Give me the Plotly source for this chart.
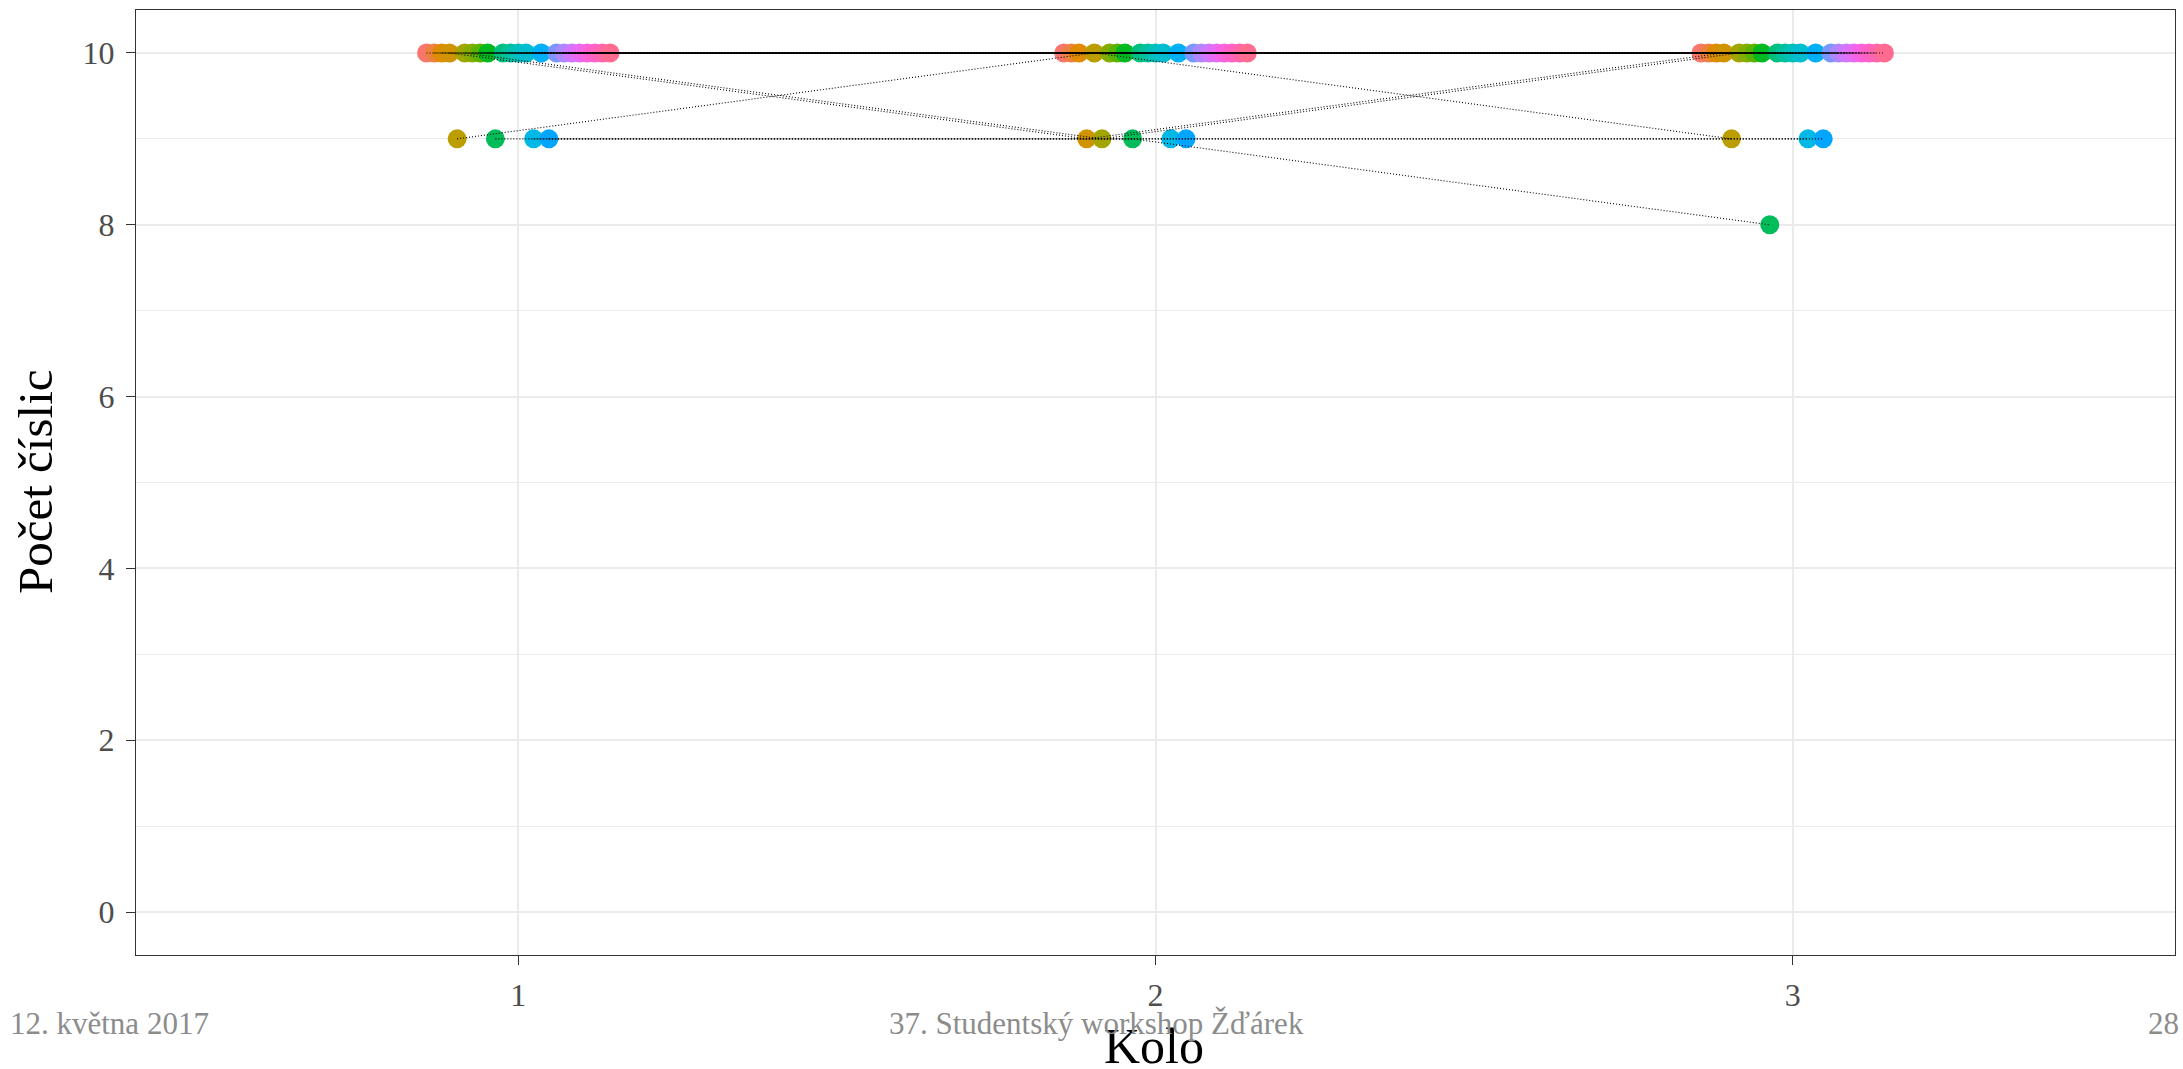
import math
import plotly.graph_objects as go

# ---- data ----
kola = [1, 2, 3]
ucastnici = [f"U{i:02d}" for i in range(1, 26)]
kolo1 = [10, 10, 10, 10, 9, 10, 10, 10, 10, 9, 10, 10, 10, 10, 9, 10, 9, 10, 10, 10, 10, 10, 10, 10, 10]
kolo2 = [10, 10, 10, 9, 10, 9, 10, 10, 10, 9, 10, 10, 10, 10, 9, 10, 9, 10, 10, 10, 10, 10, 10, 10, 10]
kolo3 = [10, 10, 10, 10, 9, 10, 10, 10, 10, 8, 10, 10, 10, 10, 9, 10, 9, 10, 10, 10, 10, 10, 10, 10, 10]
y_ticks = [0, 2, 4, 6, 8, 10]
x_tick_labels = ["1", "2", "3"]

hodnoty = [kolo1, kolo2, kolo3]
N = len(ucastnici)
DODGE = 0.3


def hcl_hex(h, c=100.0, l=65.0):
    Xn, Yn, Zn = 95.047, 100.0, 108.883
    Y = Yn * ((l + 16) / 116) ** 3 if l > 8 else Yn * l / 903.3
    u = c * math.cos(math.radians(h))
    v = c * math.sin(math.radians(h))
    den = Xn + 15 * Yn + 3 * Zn
    un, vn = 4 * Xn / den, 9 * Yn / den
    up = u / (13 * l) + un
    vp = v / (13 * l) + vn
    X = 9.0 * Y * up / (4 * vp)
    Z = -X / 3 - 5 * Y + 3 * Y / vp
    X, Y, Z = X / 100, Y / 100, Z / 100
    r = 3.240479 * X - 1.537150 * Y - 0.498535 * Z
    g = -0.969256 * X + 1.875992 * Y + 0.041556 * Z
    b = 0.055648 * X - 0.204043 * Y + 1.057311 * Z

    def gam(t):
        t = 12.92 * t if t <= 0.0031308 else 1.055 * (max(t, 0) ** (1 / 2.4)) - 0.055
        return max(0, min(255, round(t * 255)))

    return "#%02X%02X%02X" % (gam(r), gam(g), gam(b))


barvy = [hcl_hex(15 + k * 360 / N) for k in range(N)]


def dodge(k, i):
    return k + DODGE * ((i + 0.5) / N - 0.5)


fig = go.Figure()

# points (round by round, participants in order)
px, py, pc = [], [], []
for r, k in enumerate(kola):
    for i in range(N):
        px.append(dodge(k, i))
        py.append(hodnoty[r][i])
        pc.append(barvy[i])
fig.add_trace(go.Scatter(x=px, y=py, mode="markers",
                         marker=dict(size=19, color=pc, line=dict(width=0)),
                         showlegend=False, hoverinfo="skip"))

# dotted connecting lines per participant
for i in range(N):
    fig.add_trace(go.Scatter(
        x=[dodge(k, i) for k in kola],
        y=[hodnoty[r][i] for r in range(len(kola))],
        mode="lines", line=dict(color="#000000", width=1.1, dash="1px,2px"),
        showlegend=False, hoverinfo="skip"))

FONT = "Liberation Serif"
L, R, T, B = 136, 8, 10, 114
W, H = 2183, 1069
ph = H - T - B

fig.update_layout(
    width=W, height=H,
    margin=dict(l=L, r=R, t=T, b=B, pad=0),
    paper_bgcolor="white", plot_bgcolor="white",
    font=dict(family=FONT, color="#4D4D4D"),
    xaxis=dict(range=[0.4, 3.6], tickvals=kola, ticktext=x_tick_labels,
               showgrid=True, gridcolor="#EBEBEB", gridwidth=1.5,
               zeroline=False, showline=True, mirror=True,
               linecolor="#333333", linewidth=1.3,
               ticks="outside", ticklen=9, tickwidth=1.3, tickcolor="#333333",
               tickfont=dict(size=32, color="#4D4D4D", family=FONT),
               ticklabelstandoff=2),
    yaxis=dict(range=[-0.5, 10.5], tickvals=y_ticks,
               showgrid=True, gridcolor="#EBEBEB", gridwidth=1.5,
               minor=dict(tickvals=[1, 3, 5, 7, 9], showgrid=True,
                          gridcolor="#EBEBEB", gridwidth=0.8, ticks=""),
               zeroline=False, showline=True, mirror=True,
               linecolor="#333333", linewidth=1.3,
               ticks="outside", ticklen=9, tickwidth=1.3, tickcolor="#333333",
               tickfont=dict(size=32, color="#4D4D4D", family=FONT),
               ticklabelstandoff=5),
)


def py_paper(ypix):
    return (H - B - ypix) / ph


def px_paper(xpix):
    return (xpix - L) / (W - L - R)


anns = [
    dict(text="Počet číslic", x=px_paper(35), y=py_paper(482), textangle=-90,
         font=dict(size=49, color="#000000", family=FONT)),
    dict(text="Kolo", x=px_paper(1154), y=py_paper(1046),
         font=dict(size=50, color="#000000", family=FONT)),
    dict(text="12. května 2017", x=px_paper(8), y=py_paper(1023), xanchor="left",
         font=dict(size=31, color="#8C8C8C", family=FONT)),
    dict(text="37. Studentský workshop Žďárek", x=px_paper(1096), y=py_paper(1023),
         font=dict(size=31, color="#8C8C8C", family=FONT)),
    dict(text="28", x=px_paper(2181), y=py_paper(1023), xanchor="right",
         font=dict(size=31, color="#8C8C8C", family=FONT)),
]
for a in anns:
    a.update(xref="paper", yref="paper", showarrow=False,
             yanchor=a.get("yanchor", "middle"), xanchor=a.get("xanchor", "center"))
fig.update_layout(annotations=anns)

fig.write_html("out.html", config={"displayModeBar": False},
               post_script="document.body.style.margin='0';document.body.style.overflow='hidden';")
